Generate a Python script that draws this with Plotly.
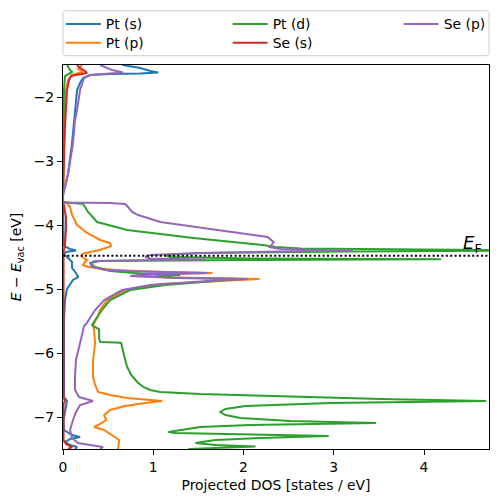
import plotly.graph_objects as go

# ---------------- data (energy in eV, projected DOS in states/eV) ----------------
PT_S_E = [-7.5, -7.469, -7.438, -7.39, -7.344, -7.313, -7.281, -7.203, -7.047, -6.75,
          -6.688, -5.953, -5.484, -5.172, -5.0, -4.859, -4.813, -4.75, -4.672, -4.578,
          -4.516, -4.453, -4.422, -4.398, -4.375, -4.328, -4.078, -3.656, -3.625, -3.531,
          -3.406, -3.203, -2.719, -2.203, -1.891, -1.781, -1.703, -1.656, -1.641, -1.633,
          -1.617, -1.594, -1.547, -1.5]
PT_S_DOS = [0.133, 0.156, 0.078, 0.022, 0.078, 0.189, 0.1, 0.011, 0.006, 0.044,
            0.011, 0.006, 0.011, 0.022, 0.044, 0.111, 0.167, 0.144, 0.1, 0.1,
            0.056, 0.011, 0.033, 0.144, 0.078, 0.011, 0.006, 0.006, 0.0, 0.0,
            0.022, 0.056, 0.1, 0.133, 0.156, 0.189, 0.222, 0.3, 0.522, 0.856,
            1.056, 0.967, 0.856, 0.656]

PT_P_E = [-7.5, -7.359, -7.297, -7.25, -7.203, -7.156, -7.109, -7.047, -6.969, -6.891,
          -6.828, -6.781, -6.75, -6.734, -6.703, -6.656, -6.609, -6.5, -6.375, -6.109,
          -5.844, -5.641, -5.563, -5.453, -5.328, -5.172, -5.016, -4.922, -4.875, -4.844,
          -4.82, -4.797, -4.773, -4.75, -4.727, -4.703, -4.656, -4.625, -4.578, -4.547,
          -4.5, -4.453, -4.422, -4.391, -4.328, -4.281, -4.234, -4.125, -4.0, -3.844,
          -3.719, -3.656, -3.633, -3.453, -3.297, -2.469, -1.891, -1.734, -1.656, -1.609,
          -1.563, -1.5]
PT_P_DOS = [0.611, 0.622, 0.556, 0.5, 0.456, 0.344, 0.411, 0.478, 0.456, 0.522,
            0.689, 0.911, 1.1, 0.967, 0.711, 0.522, 0.389, 0.356, 0.333, 0.333,
            0.356, 0.344, 0.333, 0.378, 0.411, 0.489, 0.689, 1.078, 1.689, 2.178,
            1.189, 0.8, 0.967, 1.656, 0.967, 0.578, 0.278, 0.222, 0.244, 0.267,
            0.211, 0.211, 0.3, 0.411, 0.533, 0.522, 0.411, 0.267, 0.156, 0.1,
            0.078, 0.044, 0.0, 0.0, 0.006, 0.011, 0.033, 0.056, 0.1, 0.222,
            0.167, 0.211]

PT_D_E = [-7.5, -7.484, -7.461, -7.438, -7.406, -7.359, -7.328, -7.297, -7.273, -7.25,
          -7.234, -7.203, -7.156, -7.125, -7.094, -7.063, -7.016, -6.969, -6.922, -6.875,
          -6.828, -6.781, -6.75, -6.719, -6.688, -6.664, -6.641, -6.609, -6.578, -6.531,
          -6.453, -6.344, -6.219, -6.109, -5.953, -5.875, -5.844, -5.836, -5.828, -5.766,
          -5.625, -5.594, -5.563, -5.484, -5.328, -5.172, -5.016, -4.938, -4.891, -4.859,
          -4.844, -4.828, -4.805, -4.781, -4.758, -4.719, -4.656, -4.594, -4.563, -4.547,
          -4.536, -4.523, -4.5, -4.469, -4.438, -4.414, -4.398, -4.383, -4.367, -4.344,
          -4.313, -4.203, -4.078, -3.953, -3.797, -3.672, -3.656, -3.641, -3.453, -2.516,
          -1.891, -1.672, -1.609, -1.578, -1.5]
PT_D_DOS = [1.389, 1.744, 2.133, 1.689, 1.467, 1.689, 2.189, 2.944, 1.856, 1.244,
            1.167, 1.3, 1.522, 2.078, 3.467, 2.522, 1.967, 1.8, 1.744, 1.8,
            2.022, 2.967, 4.689, 3.522, 2.633, 1.967, 1.522, 1.078, 0.967, 0.889,
            0.822, 0.756, 0.711, 0.689, 0.667, 0.656, 0.644, 0.589, 0.411, 0.4,
            0.4, 0.356, 0.322, 0.356, 0.433, 0.522, 0.744, 1.133, 1.522, 1.856,
            1.967, 1.256, 1.022, 1.3, 0.856, 0.522, 0.356, 0.3, 0.411, 2.078,
            4.189, 2.078, 1.189, 1.133, 1.522, 3.189, 5.5, 3.97, 2.633, 2.356,
            2.211, 1.444, 0.711, 0.378, 0.278, 0.222, 0.133, 0.0, 0.0, 0.006,
            0.011, 0.022, 0.1, 0.078, 0.044]

SE_S_E = [-7.5, -7.469, -7.42, -7.359, -6.8, -6.75, -6.688, -4.859, -4.547, -4.422,
          -4.313, -4.078, -3.875, -3.719, -3.656, -3.609, -3.453, -3.141, -2.469, -1.891,
          -1.734, -1.672, -1.648, -1.625, -1.594, -1.547, -1.5]
SE_S_DOS = [0.056, 0.1, 0.033, 0.006, 0.006, 0.022, 0.006, 0.006, 0.011, 0.006,
            0.022, 0.033, 0.033, 0.011, 0.006, 0.0, 0.0, 0.006, 0.022, 0.044,
            0.067, 0.089, 0.167, 0.267, 0.244, 0.189, 0.156]

SE_P_E = [-7.5, -7.469, -7.438, -7.406, -7.328, -7.203, -7.047, -6.922, -6.813, -6.75,
          -6.688, -6.578, -6.375, -6.109, -5.844, -5.641, -5.578, -5.547, -5.453, -5.328,
          -5.172, -5.016, -4.938, -4.891, -4.859, -4.844, -4.82, -4.797, -4.773, -4.75,
          -4.727, -4.703, -4.656, -4.594, -4.563, -4.547, -4.539, -4.523, -4.5, -4.469,
          -4.438, -4.414, -4.398, -4.383, -4.375, -4.344, -4.313, -4.266, -4.188, -4.063,
          -3.953, -3.844, -3.797, -3.703, -3.672, -3.656, -3.648, -3.531, -3.453, -3.203,
          -2.719, -2.359, -2.203, -1.891, -1.781, -1.703, -1.656, -1.641, -1.617, -1.578,
          -1.5]
SE_P_DOS = [0.411, 0.444, 0.3, 0.167, 0.1, 0.078, 0.111, 0.144, 0.189, 0.333,
            0.178, 0.133, 0.133, 0.144, 0.189, 0.222, 0.233, 0.256, 0.3, 0.356,
            0.456, 0.656, 0.967, 1.411, 1.767, 2.044, 1.133, 0.744, 0.911, 1.6,
            0.856, 0.467, 0.322, 0.3, 0.356, 0.967, 1.578, 0.967, 0.911, 0.967,
            1.522, 2.411, 3.211, 2.633, 2.411, 2.278, 2.311, 2.333, 2.267, 1.633,
            1.078, 0.833, 0.767, 0.711, 0.689, 0.522, 0.0, 0.0, 0.011, 0.056,
            0.111, 0.133, 0.156, 0.189, 0.211, 0.233, 0.3, 0.467, 0.667, 0.544,
            0.411]

SERIES_NAMES = ["Pt (s)", "Pt (p)", "Pt (d)", "Se (s)", "Se (p)"]
E_FERMI = -4.48
X_TICKS = [0, 1, 2, 3, 4]
Y_TICKS = [-7, -6, -5, -4, -3, -2]
X_RANGE = [0, 4.72]
Y_RANGE = [-7.5, -1.5]

# ---------------- figure ----------------
COLORS = ["#1f77b4", "#ff7f0e", "#2ca02c", "#d62728", "#9467bd"]
DATA = [(PT_S_E, PT_S_DOS), (PT_P_E, PT_P_DOS), (PT_D_E, PT_D_DOS),
        (SE_S_E, SE_S_DOS), (SE_P_E, SE_P_DOS)]
# legend slot for each series: (column x in paper units, row top in paper units)
COL_X = [-0.005, 0.3865, 0.788]
ROW_Y = [1.1471, 1.0984]
LEGEND_SLOT = [(0, 0), (0, 1), (1, 0), (1, 1), (2, 0)]

FONT = "DejaVu Sans"
FS = 13.9

fig = go.Figure()
leg_layout = {}
for i, (name, (e, d), c, (col, row)) in enumerate(zip(SERIES_NAMES, DATA, COLORS, LEGEND_SLOT)):
    assert len(e) == len(d), name
    lid = "legend" if i == 0 else f"legend{i + 1}"
    fig.add_trace(go.Scatter(x=d, y=e, mode="lines", name=name, legend=lid,
                             showlegend=True, line=dict(color=c, width=2)))
    leg_layout[lid] = dict(x=COL_X[col], y=ROW_Y[row], yanchor="top", xanchor="left",
                           bgcolor="rgba(0,0,0,0)", borderwidth=0, itemwidth=35,
                           font=dict(family=FONT, size=FS, color="black"))
fig.update_layout(showlegend=True, **leg_layout)

# Fermi level
fig.add_shape(type="line", xref="paper", x0=0, x1=1, yref="y", y0=E_FERMI, y1=E_FERMI,
              line=dict(color="black", width=2, dash="2px,2.4px"), layer="above")
fig.add_annotation(x=X_RANGE[1] - 0.06, y=E_FERMI, xref="x", yref="y",
                   text="<i>E</i><sub>F</sub>", showarrow=False,
                   xanchor="right", yanchor="bottom", yshift=-2,
                   font=dict(family=FONT, size=18, color="black"))

# legend frame (rounded)
x0, x1, y0, y1 = 0.0, 1.0, 1.0242, 1.1414
rx, ry = 3 / 426, 3 / 384
path = (f"M{x0+rx},{y0} L{x1-rx},{y0} Q{x1},{y0} {x1},{y0+ry} L{x1},{y1-ry} "
        f"Q{x1},{y1} {x1-rx},{y1} L{x0+rx},{y1} Q{x0},{y1} {x0},{y1-ry} "
        f"L{x0},{y0+ry} Q{x0},{y0} {x0+rx},{y0} Z")
fig.add_shape(type="path", path=path, xref="paper", yref="paper",
              line=dict(color="#d0d0d0", width=1), fillcolor="rgba(255,255,255,0.8)",
              layer="below")

axis_common = dict(showgrid=False, zeroline=False, showline=True, linecolor="black",
                   linewidth=1.1, mirror=True, ticks="outside", ticklen=5, tickwidth=1.1,
                   tickcolor="black", tickfont=dict(family=FONT, size=FS, color="black"))
fig.update_xaxes(range=X_RANGE, tickvals=X_TICKS,
                 title=dict(text="Projected DOS [states / eV]", standoff=6,
                            font=dict(family=FONT, size=FS, color="black")),
                 **axis_common)
fig.update_yaxes(range=Y_RANGE, tickvals=Y_TICKS,
                 title=dict(text="<i>E</i> − <i>E</i><sub>vac</sub> [eV]", standoff=8,
                            font=dict(family=FONT, size=FS, color="black")),
                 **axis_common)

fig.update_layout(width=498, height=502,
                  margin=dict(l=63, r=9, t=65, b=53, autoexpand=False),
                  paper_bgcolor="white", plot_bgcolor="white",
                  font=dict(family=FONT, size=FS, color="black"))

fig.write_html("out.html", config={"displayModeBar": False},
               post_script="document.body.style.margin='0';document.body.style.padding='0';")
